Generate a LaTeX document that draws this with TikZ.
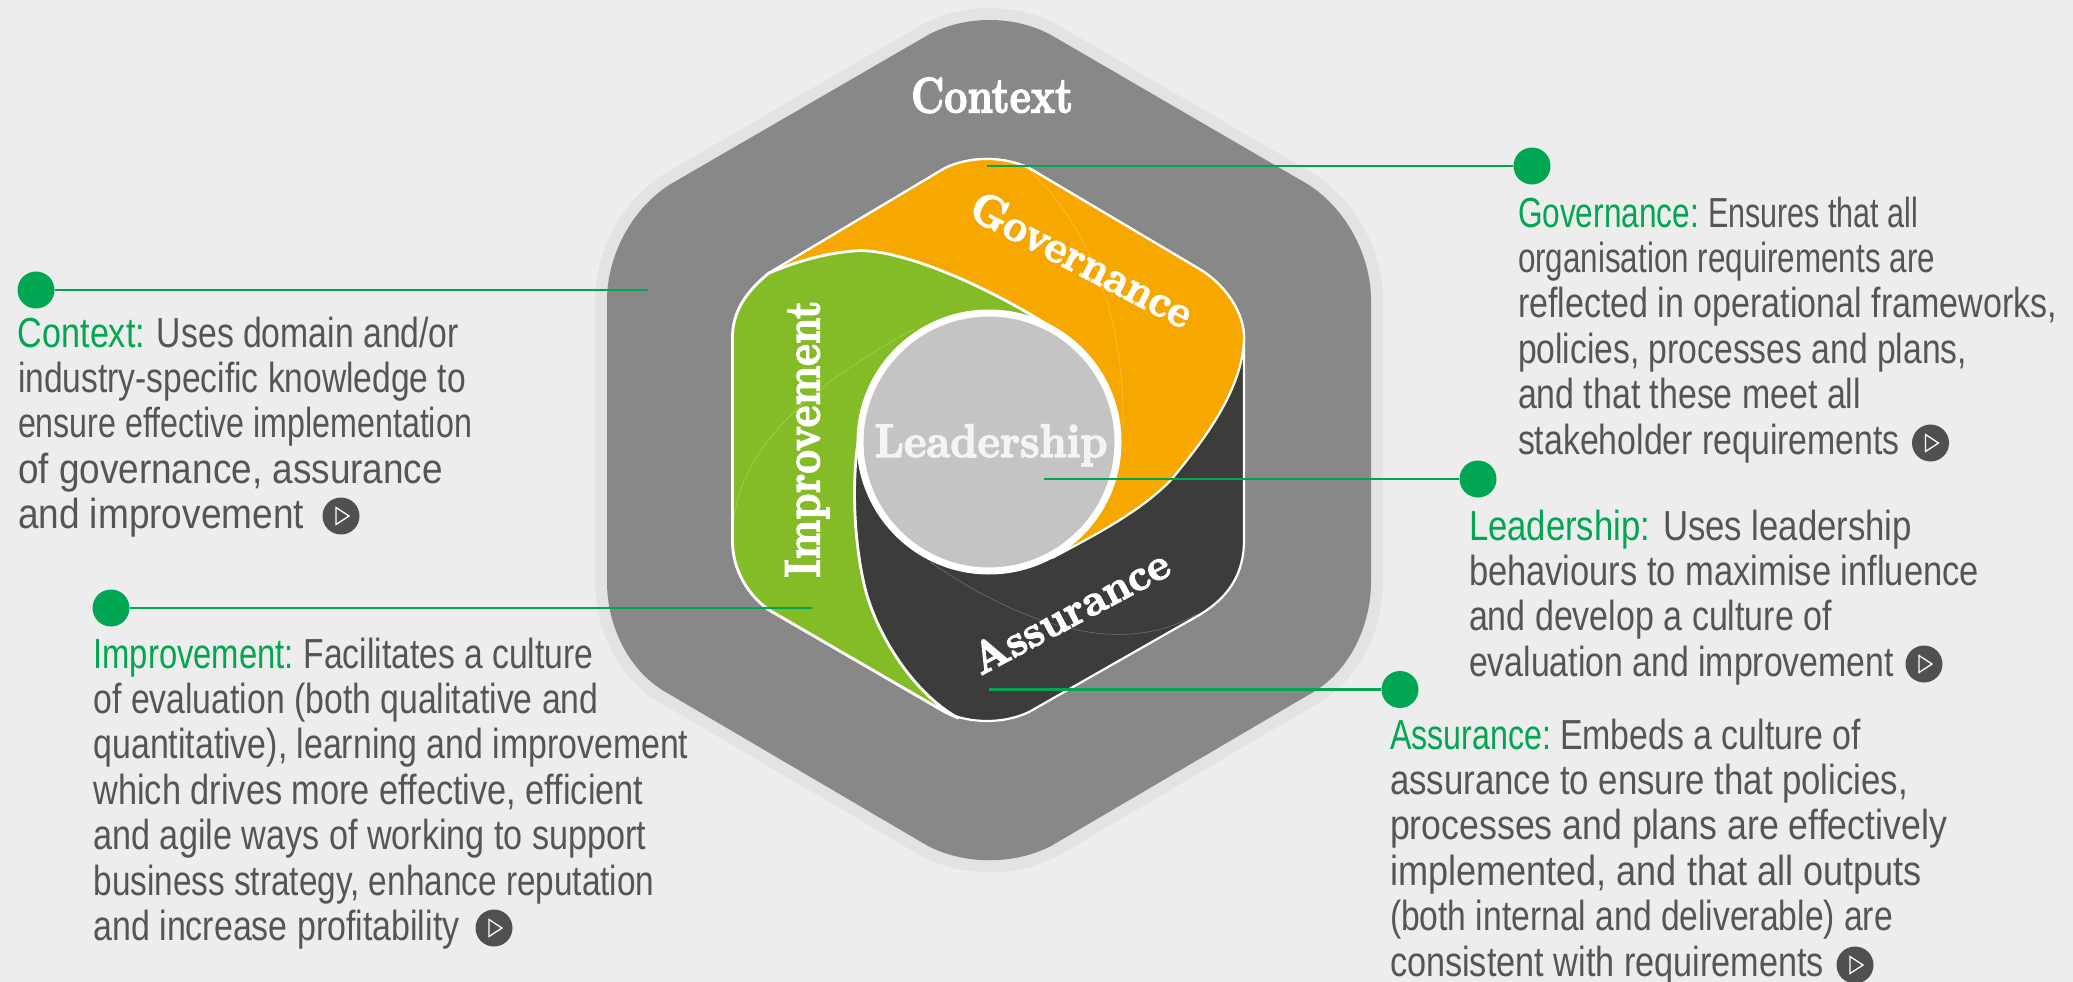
\documentclass[tikz,border=0pt]{standalone}
\usepackage{fontspec}
\newfontfamily\bodyf{Liberation Sans}
\newfontfamily\ttlf[Extension=.otf,FakeBold=3]{lmroman10-bold}
\definecolor{bgc}{HTML}{EDEDED}
\definecolor{halo}{HTML}{E3E3E3}
\definecolor{ctxc}{HTML}{888888}
\definecolor{darkc}{HTML}{3C3C3B}
\definecolor{orangec}{HTML}{F7A800}
\definecolor{greenc}{HTML}{84BC27}
\definecolor{leadc}{HTML}{C4C4C4}
\definecolor{tgreen}{HTML}{00A651}
\definecolor{tgrey}{HTML}{555555}
\definecolor{leadt}{HTML}{F4F4F4}
\newsavebox\lbox
\newcommand\fl[2]{\hbox{\sbox\lbox{#2}\edef\tmpw{\the\wd\lbox}\pgfmathsetmacro\fr{#1/\tmpw}\scalebox{\fr}[1]{\usebox\lbox}}}
\newcommand\hd[1]{\textcolor{tgreen}{#1}}
% first line: heading width, gap, rest width
\newcommand\fh[5]{\hbox{\fl{#1}{\hd{#2}}\kern#3pt\fl{#4}{#5}}}
\newcommand\ttl[3]{{\ttlf\fontsize{#1}{#1}\selectfont\fl{#2}{#3}}}
\tikzset{
  dotn/.style={circle,fill=tgreen,draw=none,minimum size=37pt,inner sep=0pt},
  playn/.style={circle,fill=darkc!90!white,draw=none,minimum size=37pt,inner sep=0pt},
  playt/.style={white,line width=1.3pt,line join=miter},
  conn/.style={tgreen,line width=2.6pt},
  blurb/.style={anchor=base west,inner sep=0pt,outer sep=0pt,text=tgrey,font=\bodyf\fontsize{42}{45.4}\selectfont},
  title/.style={anchor=base,inner sep=0pt,outer sep=0pt,text=white},
  faint/.style={white,opacity=.3,line width=.5pt},
  edgew/.style={draw=white,line width=2.2pt,line join=round}
}
\newcommand\lines[1]{\vtop{\baselineskip=45.4pt\lineskip=0pt\lineskiplimit=-100pt #1}}
\newcommand\playbtn[3]{\node[playn] (#1) at (#2,#3) {};
  \draw[playt] ([shift={(-5,-8.5)}]#1.center) -- ([shift={(8,0)}]#1.center) -- ([shift={(-5,8.5)}]#1.center) -- cycle;}
\begin{document}
\begin{tikzpicture}[x=1pt,y=-1pt]
\useasboundingbox (0,0) rectangle (2073,982);
\fill[bgc] (0,0) rectangle (2073,982);
% Context hexagon
\def\outerhex{(928,35) .. controls (965,15) and (1014,15) .. (1051,35) -- (1309,185) .. controls (1350,212) and (1371,260) .. (1371,300) -- (1371,582) .. controls (1371,625) and (1350,672) .. (1310,694) -- (1051,846) .. controls (1014,865) and (965,865) .. (928,846) -- (669,694) .. controls (628,672) and (607,625) .. (607,582) -- (607,300) .. controls (607,260) and (628,212) .. (669,185) -- cycle}
\draw[halo,line width=24pt,line join=round,fill=ctxc] \outerhex;
\fill[ctxc] \outerhex;
% Assurance: whole inner hexagon
\def\innerhex{(945,168) .. controls (970,156) and (1004,156) .. (1029,168) -- (1201,270) .. controls (1228,287) and (1244,315) .. (1244,337) -- (1244,540) .. controls (1244,575) and (1228,597) .. (1201,614) -- (1029,712) .. controls (1004,724) and (970,724) .. (945,712) -- (769,610) .. controls (748,595) and (732.5,570) .. (732.5,541) -- (732.5,337) .. controls (732.5,310) and (748,290) .. (769,273) -- cycle}
\path[fill=darkc,edgew] \innerhex;
\draw[faint] (930,562) .. controls (1000,610) and (1110,665) .. (1197,614);
% Governance
\path[fill=orangec,edgew] (769,273) -- (945,168) .. controls (970,156) and (1004,156) .. (1029,168) -- (1201,270) .. controls (1228,287) and (1244,315) .. (1244,337) .. controls (1244,390) and (1200,445) .. (1171,480) .. controls (1140,512) and (1095,535) .. (1052,558) -- (989,442) -- cycle;
\draw[faint] (1025,166) .. controls (1085,220) and (1125,310) .. (1123,428);
% Improvement
\path[fill=greenc,draw=white,line width=2.8pt,line join=round] (769,273) .. controls (800,260) and (830,252) .. (861,250.5) .. controls (915,252) and (1005,296) .. (1060,333) -- (989,442) -- (858,442) .. controls (851,490) and (855,550) .. (866,592) .. controls (878,635) and (912,692) .. (958,718) -- (945,712) -- (769,610) .. controls (748,595) and (732.5,570) .. (732.5,541) -- (732.5,337) .. controls (732.5,310) and (748,290) .. (769,273) -- cycle;
\draw[faint] (733,532) .. controls (735,440) and (830,375) .. (914,329);
% Leadership
\draw[white,fill=leadc,line width=7pt] (989,442) circle[radius=129];
% Titles
\node[title] (tctx) at (992,112.5) {\ttl{50}{162}{Context}};
\node[title,rotate=-27.5] (tgov) at (1075,273) {\ttl{45}{244}{Governance}};
\node[title,rotate=90] (timp) at (819.5,439) {\ttl{50}{277}{Improvement}};
\node[title,rotate=28] (tass) at (1077,624.5) {\ttl{44}{218}{Assurance}};
\node[title,text=leadt] (tlead) at (991,457) {\ttl{47}{233}{Leadership}};
% Blurbs
\node[blurb] (bctx) at (18,347) {\lines{%
\fh{127}{Context:}{12}{302}{Uses domain and/or}
\fl{448}{industry-specific knowledge to}
\fl{454}{ensure effective implementation}
\fl{425}{of governance, assurance}
\fl{286}{and improvement}}};
\node[blurb] (bgov) at (1518,227) {\lines{%
\fh{181}{Governance:}{9}{210}{Ensures that all}
\fl{417}{organisation requirements are}
\fl{539}{reflected in operational frameworks,}
\fl{449}{policies, processes and plans,}
\fl{343}{and that these meet all}
\fl{382}{stakeholder requirements}}};
\node[blurb] (blead) at (1469,540) {\lines{%
\fh{181}{Leadership:}{13}{249}{Uses leadership}
\fl{510}{behaviours to maximise influence}
\fl{363}{and develop a culture of}
\fl{425}{evaluation and improvement}}};
\node[blurb] (bass) at (1390,749) {\lines{%
\fh{161}{Assurance:}{9}{301}{Embeds a culture of}
\fl{518}{assurance to ensure that policies,}
\fl{557}{processes and plans are effectively}
\fl{532}{implemented, and that all outputs}
\fl{503}{(both internal and deliverable) are}
\fl{434}{consistent with requirements}}};
\node[blurb] (bimp) at (93.5,668) {\lines{%
\fh{200.5}{Improvement:}{9.5}{290}{Facilitates a culture}
\fl{505}{of evaluation (both qualitative and}
\fl{595}{quantitative), learning and improvement}
\fl{550}{which drives more effective, efficient}
\fl{553}{and agile ways of working to support}
\fl{561}{business strategy, enhance reputation}
\fl{366}{and increase profitability}}};
% Play buttons
\playbtn{pctx}{341}{516}
\playbtn{pgov}{1930.5}{443}
\playbtn{plead}{1924}{664}
\playbtn{pass}{1855}{965}
\playbtn{pimp}{494}{928}
% Connectors
\node[dotn] (dctx) at (36,290) {};
\node[dotn] (dgov) at (1532,166) {};
\node[dotn] (dlead) at (1478,479) {};
\node[dotn] (dass) at (1400,689.5) {};
\node[dotn] (dimp) at (111,608) {};
\coordinate (ectx) at (648,290);
\coordinate (egov) at (987,166);
\coordinate (elead) at (1044,479);
\coordinate (eass) at (989,689.5);
\coordinate (eimp) at (812,608);
\draw[conn] (dctx) -- (ectx);
\draw[conn] (dgov) -- (egov);
\draw[conn] (dlead) -- (elead);
\draw[conn] (dass) -- (eass);
\draw[conn] (dimp) -- (eimp);
\end{tikzpicture}
\end{document}
